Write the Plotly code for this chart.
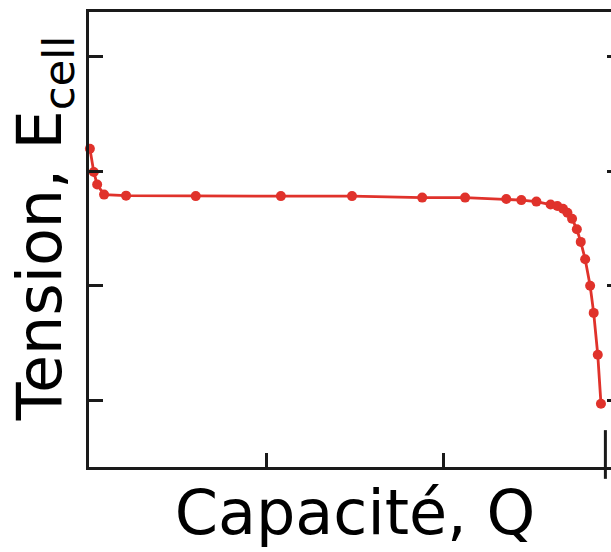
import plotly.graph_objects as go

# Capacity (x) and cell voltage (y), arbitrary units
capacity = [0.005, 0.027, 0.046, 0.085, 0.209, 0.602, 1.082, 1.483, 1.879, 2.121,
            2.353, 2.438, 2.523, 2.603, 2.641, 2.673, 2.698, 2.724, 2.751, 2.773,
            2.798, 2.826, 2.846, 2.869, 2.887]
tension = [3.197, 2.994, 2.884, 2.796, 2.787, 2.783, 2.783, 2.783, 2.770, 2.770,
           2.757, 2.748, 2.735, 2.710, 2.696, 2.672, 2.637, 2.585, 2.493, 2.383,
           2.232, 2.000, 1.763, 1.397, 0.970]
x_ticks = [0, 1, 2, 3]
y_ticks = [1, 2, 3, 4]
q_end = 2.912

x_title = "Capacité, Q"
y_title = "Tension, E<sub>cell</sub>"

RED = "#e0322b"
INK = "#1a1a1a"
font = "DejaVu Sans"

fig = go.Figure()
fig.add_trace(go.Scatter(
    x=capacity, y=tension, mode="lines+markers",
    line=dict(color=RED, width=2.8),
    marker=dict(color=RED, size=10),
    cliponaxis=False,
    showlegend=False, hoverinfo="skip",
))

fig.add_shape(type="line", xref="x", yref="paper",
              x0=q_end, x1=q_end, y0=-0.026, y1=0.081,
              line=dict(color=INK, width=3))

fig.add_annotation(
    text=y_title, textangle=-90, showarrow=False,
    xref="paper", yref="paper", x=-0.086, y=0.525,
    xanchor="center", yanchor="middle",
    font=dict(size=62, family=font, color="black"),
)

fig.update_layout(
    width=640, height=552,
    margin=dict(l=89, r=19, t=9, b=85),
    plot_bgcolor="white", paper_bgcolor="white",
    font=dict(family=font, color="black"),
    xaxis=dict(
        range=[0, 3], tickvals=x_ticks, showticklabels=False,
        ticks="inside", ticklen=14, tickwidth=3, tickcolor=INK,
        showline=True, linewidth=3, linecolor=INK, mirror=True,
        showgrid=False, zeroline=False,
        title=dict(text=x_title, font=dict(size=62, family=font), standoff=22),
    ),
    yaxis=dict(
        range=[0.417, 4.391], tickvals=y_ticks, showticklabels=False,
        ticks="inside", ticklen=14, tickwidth=3, tickcolor=INK,
        showline=True, linewidth=3, linecolor=INK, mirror="ticks",
        showgrid=False, zeroline=False,
    ),
)

fig.write_html(
    "out.html",
    config={"displayModeBar": False},
    post_script="document.body.style.margin='0';document.body.style.overflow='hidden';document.documentElement.style.overflow='hidden';",
)
